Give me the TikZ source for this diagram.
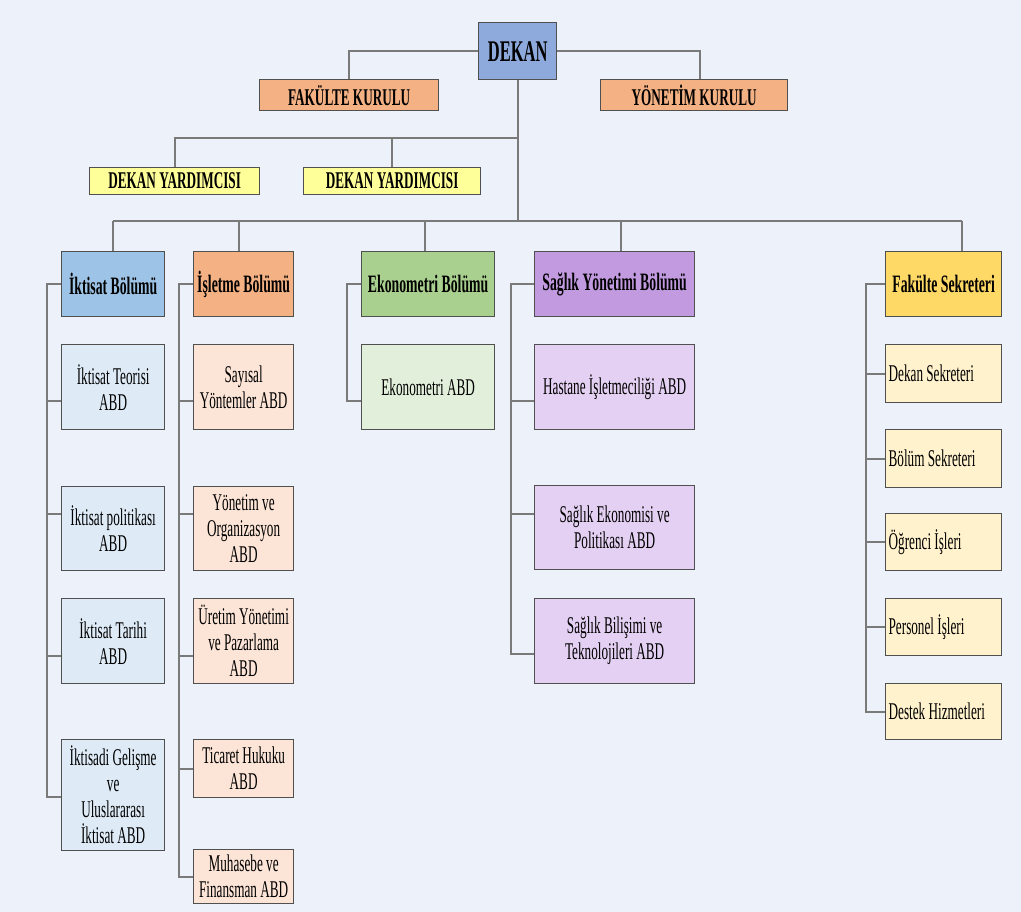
\documentclass[tikz,border=0pt]{standalone}
\usepackage{fontspec}
\setmainfont{Liberation Serif}[FakeStretch=0.55]
\definecolor{bg}{HTML}{EDF1F9}
\definecolor{cdekan}{HTML}{8EA9DB}
\definecolor{ckurul}{HTML}{F4B183}
\definecolor{cyard}{HTML}{FFFF99}
\definecolor{cik}{HTML}{9DC3E6}
\definecolor{cikl}{HTML}{DEEBF7}
\definecolor{cis}{HTML}{F4B183}
\definecolor{cisl}{HTML}{FCE4D6}
\definecolor{cek}{HTML}{A9D08E}
\definecolor{cekl}{HTML}{E2EFDA}
\definecolor{csy}{HTML}{C29AE0}
\definecolor{csyl}{HTML}{E4D0F2}
\definecolor{cfs}{HTML}{FFD966}
\definecolor{cfsl}{HTML}{FFF2CC}
\definecolor{cline}{HTML}{7A7A7A}
\definecolor{cborder}{HTML}{505050}
\newcommand\lefttext[1]{\makebox[110pt][l]{#1}}
\begin{document}
\begin{tikzpicture}[x=1pt,y=-1pt,
  box/.style={draw=cborder, line width=1.3pt, anchor=north west, inner sep=0pt, align=center, text=black},
  top/.style={box, font=\bfseries\fontsize{24}{27}\selectfont},
  dept/.style={box, font=\bfseries\fontsize{25}{28}\selectfont},
  sub/.style={box, font=\fontsize{24}{26}\selectfont},
  conn/.style={draw=cline, line width=2.2pt}]
\useasboundingbox (0,0) rectangle (1021,912);
\fill[bg] (0,0) rectangle (1021,912);
% top level
\node[box, fill=cdekan, font=\bfseries\fontsize{30}{32}\selectfont, minimum width=78pt, minimum height=57pt] (dekan) at (478,22) {DEKAN};
\node[top, fill=ckurul, minimum width=179pt, minimum height=31pt] (fk) at (259,79) {FAKÜLTE KURULU};
\node[top, fill=ckurul, minimum width=187pt, minimum height=31pt] (yk) at (600,79) {YÖNETİM KURULU};
\node[top, fill=cyard, minimum width=170pt, minimum height=27pt] (dy1) at (89,167) {DEKAN YARDIMCISI};
\node[top, fill=cyard, minimum width=177pt, minimum height=27pt] (dy2) at (303,167) {DEKAN YARDIMCISI};
% departments
\node[dept, fill=cik, minimum width=103pt, minimum height=65pt] (ik) at (61,251) {İktisat Bölümü};
\node[dept, fill=cis, minimum width=100pt, minimum height=65pt] (is) at (193,251) {İşletme Bölümü};
\node[dept, fill=cek, minimum width=133pt, minimum height=65pt] (ek) at (361,251) {Ekonometri Bölümü};
\node[dept, fill=csy, minimum width=160pt, minimum height=65pt] (sy) at (534,251) {Sağlık Yönetimi Bölümü};
\node[dept, fill=cfs, minimum width=116pt, minimum height=65pt] (fs) at (885,251) {Fakülte Sekreteri};
% iktisat
\node[sub, fill=cikl, minimum width=103pt, minimum height=85pt] (ik1) at (61,344) {İktisat Teorisi\\ABD};
\node[sub, fill=cikl, minimum width=103pt, minimum height=84pt] (ik2) at (61,486) {İktisat politikası\\ABD};
\node[sub, fill=cikl, minimum width=103pt, minimum height=85pt] (ik3) at (61,598) {İktisat Tarihi\\ABD};
\node[sub, fill=cikl, minimum width=103pt, minimum height=111pt] (ik4) at (61,739) {İktisadi Gelişme\\ve\\Uluslararası\\İktisat ABD};
% isletme
\node[sub, fill=cisl, minimum width=100pt, minimum height=85pt] (is1) at (193,344) {Sayısal\\Yöntemler ABD};
\node[sub, fill=cisl, minimum width=100pt, minimum height=84pt] (is2) at (193,486) {Yönetim ve\\Organizasyon\\ABD};
\node[sub, fill=cisl, minimum width=100pt, minimum height=85pt] (is3) at (193,598) {Üretim Yönetimi\\ve Pazarlama\\ABD};
\node[sub, fill=cisl, minimum width=100pt, minimum height=58pt] (is4) at (193,739) {Ticaret Hukuku\\ABD};
\node[sub, fill=cisl, minimum width=100pt, minimum height=54pt] (is5) at (193,849) {Muhasebe ve\\Finansman ABD};
% ekonometri
\node[sub, fill=cekl, minimum width=133pt, minimum height=85pt] (ek1) at (361,344) {Ekonometri ABD};
% saglik
\node[sub, fill=csyl, minimum width=160pt, minimum height=85pt] (sy1) at (534,344) {Hastane İşletmeciliği ABD};
\node[sub, fill=csyl, minimum width=160pt, minimum height=84pt] (sy2) at (534,485) {Sağlık Ekonomisi ve\\Politikası ABD};
\node[sub, fill=csyl, minimum width=160pt, minimum height=85pt] (sy3) at (534,598) {Sağlık Bilişimi ve\\Teknolojileri ABD};
% fakulte sekreteri
\node[sub, fill=cfsl, minimum width=116pt, minimum height=58pt] (fs1) at (885,344) {\lefttext{Dekan Sekreteri}};
\node[sub, fill=cfsl, minimum width=116pt, minimum height=58pt] (fs2) at (885,429) {\lefttext{Bölüm Sekreteri}};
\node[sub, fill=cfsl, minimum width=116pt, minimum height=57pt] (fs3) at (885,513) {\lefttext{Öğrenci İşleri}};
\node[sub, fill=cfsl, minimum width=116pt, minimum height=57pt] (fs4) at (885,598) {\lefttext{Personel İşleri}};
\node[sub, fill=cfsl, minimum width=116pt, minimum height=56pt] (fs5) at (885,683) {\lefttext{Destek Hizmetleri}};
% helper coordinates
\coordinate (yy) at (0,138);
\coordinate (busy) at (0,221);
\coordinate (ykd) at ([xshift=6pt]yk.north);
\coordinate (isd) at ([xshift=-5pt]is.north);
\coordinate (ekd) at ([xshift=-3pt]ek.north);
\coordinate (syd) at ([xshift=6pt]sy.north);
\coordinate (fsd) at ([xshift=18pt]fs.north);
% connectors
\draw[conn] (dekan.west) -| (fk.north);
\draw[conn] (dekan.east) -| (ykd);
\draw[conn] (dekan.south) -- (dekan.south |- busy);
\draw[conn] (dekan.south |- yy) -| (dy1.north);
\draw[conn] (dy2.north |- yy) -- (dy2.north);
\draw[conn] (ik.north |- busy) -- (fsd |- busy);
\draw[conn] (ik.north |- busy) -- (ik.north);
\draw[conn] (isd |- busy) -- (isd);
\draw[conn] (ekd |- busy) -- (ekd);
\draw[conn] (syd |- busy) -- (syd);
\draw[conn] (fsd |- busy) -- (fsd);
% iktisat spine
\draw[conn] (ik.west) -- ++(-14,0) |- ([yshift=-13.5pt]ik1.west);
\draw[conn] (ik.west) -- ++(-14,0) |- ([yshift=15pt]ik2.west);
\draw[conn] (ik.west) -- ++(-14,0) |- ([yshift=-14.5pt]ik3.west);
\draw[conn] (ik.west) -- ++(-14,0) |- ([yshift=-1.5pt]ik4.west);
% isletme spine
\draw[conn] (is.west) -- ++(-14,0) |- ([yshift=-13.5pt]is1.west);
\draw[conn] (is.west) -- ++(-14,0) |- ([yshift=15pt]is2.west);
\draw[conn] (is.west) -- ++(-14,0) |- ([yshift=-14.5pt]is3.west);
\draw[conn] (is.west) -- ++(-14,0) |- (is4.west);
\draw[conn] (is.west) -- ++(-14,0) |- (is5.west);
% ekonometri spine
\draw[conn] (ek.west) -- ++(-14,0) |- ([yshift=-13.5pt]ek1.west);
% saglik spine
\draw[conn] (sy.west) -- ++(-23,0) |- ([yshift=-13.5pt]sy1.west);
\draw[conn] (sy.west) -- ++(-23,0) |- ([yshift=14pt]sy2.west);
\draw[conn] (sy.west) -- ++(-23,0) |- ([yshift=-12.5pt]sy3.west);
% fakulte sekreteri spine
\draw[conn] (fs.west) -- ++(-19,0) |- (fs1.west);
\draw[conn] (fs.west) -- ++(-19,0) |- (fs2.west);
\draw[conn] (fs.west) -- ++(-19,0) |- (fs3.west);
\draw[conn] (fs.west) -- ++(-19,0) |- (fs4.west);
\draw[conn] (fs.west) -- ++(-19,0) |- (fs5.west);
\end{tikzpicture}
\end{document}
